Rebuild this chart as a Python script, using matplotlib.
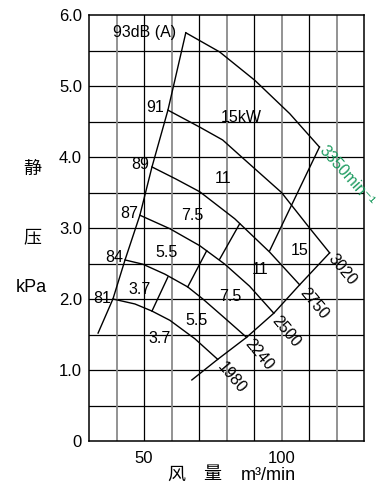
import matplotlib
matplotlib.use("Agg")
import matplotlib.pyplot as plt
import numpy as np

plt.rcParams['font.family'] = ['Liberation Sans', 'Noto Sans CJK SC', 'DejaVu Sans']

# surge limit (left boundary), flow m3/min vs static pressure kPa
surge_q = [33.3, 38.7, 43.1, 48.5, 52.9, 58.7, 65.2]
surge_p = [1.52, 2.00, 2.55, 3.18, 3.86, 4.66, 5.75]

# constant speed curves
speed_curves = {
    '1980': ([38.7, 46.7, 52.9, 59.4, 68.5, 76.8],
             [2.00, 1.93, 1.83, 1.70, 1.44, 1.15]),
    '2240': ([43.1, 49.6, 57.6, 65.9, 71.4, 79.4, 87.3],
             [2.55, 2.49, 2.35, 2.17, 2.00, 1.73, 1.46]),
    '2500': ([48.5, 59.4, 70.3, 79.4, 88.4, 97.2],
             [3.18, 2.99, 2.75, 2.49, 2.18, 1.80]),
    '2750': ([52.9, 61.6, 70.3, 83.0, 95.7, 106.6],
             [3.86, 3.69, 3.51, 3.13, 2.66, 2.20]),
    '3020': ([58.7, 70.3, 78.6, 85.5, 100.0, 110.2, 117.5],
             [4.66, 4.42, 4.24, 4.00, 3.50, 3.00, 2.65]),
    '3350': ([65.2, 77.5, 90.3, 103.0, 113.8],
             [5.75, 5.48, 5.08, 4.61, 4.14]),
}

# right boundary through the curve ends
limit_q = [67.4, 76.8, 87.3, 97.2, 106.6, 117.5]
limit_p = [0.86, 1.15, 1.46, 1.80, 2.20, 2.65]

# motor power boundaries
power_lines = [
    ([52.9, 58.7], [1.83, 2.31]),
    ([65.9, 72.8], [2.17, 2.68]),
    ([77.5, 84.8], [2.56, 3.06]),
    ([95.7, 113.8], [2.68, 4.14]),
]

noise_labels = ['93dB (A)', '91', '89', '87', '84', '81']
noise_q = [50.2, 54.0, 48.5, 44.5, 39.1, 34.7]
noise_p = [5.75, 4.70, 3.90, 3.21, 2.58, 2.01]

power_labels = ['15kW', '11', '7.5', '5.5', '3.7', '3.7', '5.5', '7.5', '11', '15']
power_q = [85.5, 78.6, 67.7, 58.3, 48.5, 55.8, 69.2, 81.2, 92.1, 106.6]
power_p = [4.55, 3.70, 3.18, 2.66, 2.14, 1.45, 1.70, 2.03, 2.42, 2.69]

speed_labels = ['1980', '2240', '2500', '2750', '3020']
speed_q = [81.9, 91.7, 101.5, 111.7, 122.2]
speed_p = [0.89, 1.21, 1.54, 1.94, 2.41]

fig = plt.figure(figsize=(3.76, 4.88), dpi=100)
ax = fig.add_axes([89/376, 47/488, 275/376, 426/488])
ax.set_xlim(30, 130)
ax.set_ylim(0, 6)

# grid
for y in np.arange(0.5, 6.0, 0.5):
    ax.axhline(y, color='black', lw=0.9, zorder=1)
for x in range(40, 130, 10):
    if x % 20 == 0:
        ax.axvline(x, color='#8a8a8a', lw=1.3, zorder=1)
    else:
        ax.axvline(x, color='black', lw=0.9, zorder=1)

for sp in ax.spines.values():
    sp.set_linewidth(1.1)

ax.plot(surge_q, surge_p, color='black', lw=1.0, zorder=3)
for name, (q, p) in speed_curves.items():
    ax.plot(q, p, color='black', lw=1.0, zorder=3)
ax.plot(limit_q, limit_p, color='black', lw=1.0, zorder=3)
for q, p in power_lines:
    ax.plot(q, p, color='black', lw=1.0, zorder=3)

fs = 11.5
for t, q, p in zip(noise_labels, noise_q, noise_p):
    ax.text(q, p, t, fontsize=fs, ha='center', va='center', zorder=4)
for t, q, p in zip(power_labels, power_q, power_p):
    ax.text(q, p, t, fontsize=fs, ha='center', va='center', zorder=4)
for t, q, p in zip(speed_labels, speed_q, speed_p):
    ax.text(q, p, t, fontsize=fs, ha='center', va='center', rotation=-50,
            rotation_mode='anchor', zorder=4)
ax.text(123.6, 3.73, '3350min⁻¹', fontsize=fs, color='#1a9a5e', ha='center',
        va='center', rotation=-48, rotation_mode='anchor', clip_on=False, zorder=4)

ax.set_yticks([0, 1, 2, 3, 4, 5, 6])
ax.set_yticklabels(['0', '1.0', '2.0', '3.0', '4.0', '5.0', '6.0'])
ax.set_xticks([50, 100])
ax.set_xticklabels(['50', '100'])
ax.tick_params(axis='y', length=0, pad=5, labelsize=12)
ax.tick_params(axis='x', length=0, pad=7, labelsize=12)

# axis titles
fig.text(32/376, 1 - 169/488, '静', fontsize=13, ha='center', va='center')
fig.text(32/376, 1 - 238/488, '压', fontsize=13, ha='center', va='center')
fig.text(31/376, 1 - 287/488, 'kPa', fontsize=13, ha='center', va='center')
fig.text(176/376, 1 - 475/488, '风', fontsize=13, ha='center', va='center')
fig.text(212/376, 1 - 475/488, '量', fontsize=13, ha='center', va='center')
fig.text(268/376, 1 - 475/488, 'm³/min', fontsize=13, ha='center', va='center')

fig.savefig('out.png', dpi=100)
